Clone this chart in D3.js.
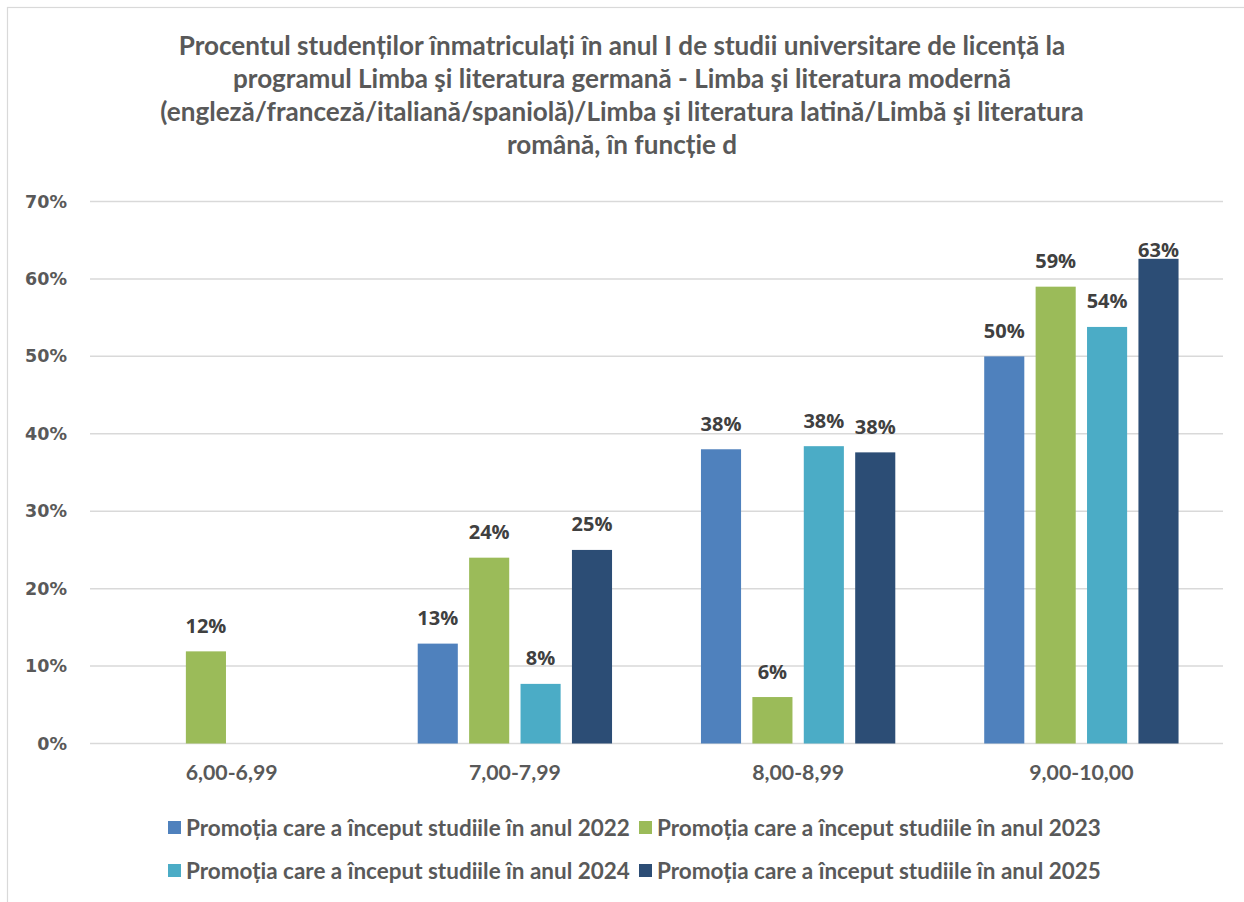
<!DOCTYPE html>
<html>
<head>
<meta charset="utf-8">
<script src="https://cdn.jsdelivr.net/npm/d3@7/dist/d3.min.js"></script>
<style>
  body { margin: 0; background: #fff; }
  svg { display: block; }
</style>
</head>
<body>
<div id="chart"></div>
<script>
(function () {
  const titleLines = [
    "Procentul studenților înmatriculați în anul I de studii universitare de licență la",
    "programul Limba şi literatura germană - Limba şi literatura modernă",
    "(engleză/franceză/italiană/spaniolă)/Limba şi literatura latină/Limbă şi literatura",
    "română, în funcție d"
  ];
  const categories = ["6,00-6,99", "7,00-7,99", "8,00-8,99", "9,00-10,00"];
  const seriesNames = [
    "Promoția care a început studiile în anul 2022",
    "Promoția care a început studiile în anul 2023",
    "Promoția care a început studiile în anul 2024",
    "Promoția care a început studiile în anul 2025"
  ];
  // null = no bar in that group
  const values2022 = [null, 0.129, 0.380, 0.500];
  const values2023 = [0.119, 0.240, 0.060, 0.590];
  const values2024 = [null, 0.077, 0.384, 0.538];
  const values2025 = [null, 0.250, 0.376, 0.626];
  const seriesColors = ["#4F81BD", "#9BBB59", "#4BACC6", "#2C4D75"];
  const yTicks = [0, 0.1, 0.2, 0.3, 0.4, 0.5, 0.6, 0.7];

  const W = 1244, H = 902;
  const plot = {left: 90, right: 1223, top: 201.5, bottom: 743.5};
  const bodyFont = "Lato, 'Open Sans', sans-serif";
  const grey = "#595959";

  const allValues = [values2022, values2023, values2024, values2025];
  const rows = [];
  categories.forEach(function (c, i) {
    seriesNames.forEach(function (s, j) {
      if (allValues[j][i] !== null) rows.push({cat: c, series: s, idx: j, value: allValues[j][i]});
    });
  });

  // scale a text selection's font so its first node is `target` px wide (Calibri stand-in)
  function fitWidth(sel, target) {
    const w = sel.node().getComputedTextLength();
    const fs = parseFloat(sel.attr("font-size"));
    sel.attr("font-size", (fs * target / w).toFixed(2));
  }

  const svg = d3.select("#chart").append("svg")
    .attr("width", W)
    .attr("height", H);

  // chart frame (only top and left edges fall in view)
  svg.append("rect")
    .attr("x", 7.5).attr("y", 7.5)
    .attr("width", W + 20).attr("height", H + 20)
    .attr("fill", "#fff")
    .attr("stroke", "#D9D9D9")
    .attr("stroke-width", 1.2);

  const title = svg.append("g").selectAll("text")
    .data(titleLines)
    .join("text")
    .attr("x", 622)
    .attr("y", function (d, i) { return 55 + i * 33; })
    .attr("text-anchor", "middle")
    .attr("font-family", bodyFont)
    .attr("font-weight", "bold")
    .attr("font-size", 22)
    .attr("fill", grey)
    .text(function (d) { return d; });
  fitWidth(title, 887);

  const y = d3.scaleLinear()
    .domain([0, 0.7])
    .range([plot.bottom, plot.top]);

  const x0 = d3.scaleBand()
    .domain(categories)
    .range([plot.left, plot.right])
    .paddingInner(0.274)
    .paddingOuter(0.137);

  const x1 = d3.scaleBand()
    .domain(seriesNames)
    .range([0, x0.bandwidth()])
    .paddingInner(0.22)
    .paddingOuter(0.11);

  // gridlines
  svg.append("g").selectAll("line")
    .data(yTicks)
    .join("line")
    .attr("x1", plot.left).attr("x2", plot.right)
    .attr("y1", function (d) { return y(d); })
    .attr("y2", function (d) { return y(d); })
    .attr("stroke", "#D9D9D9")
    .attr("stroke-width", 1.5);

  const yAxis = svg.append("g")
    .attr("transform", "translate(67,0)")
    .call(d3.axisLeft(y).tickValues(yTicks).tickFormat(d3.format(".0%")).tickSize(0).tickPadding(0));
  yAxis.select(".domain").remove();
  yAxis.selectAll("text")
    .attr("font-family", "'DejaVu Sans', sans-serif")
    .attr("font-weight", "bold")
    .attr("font-size", 17.5)
    .attr("fill", grey);

  const xAxis = svg.append("g")
    .attr("transform", "translate(0," + plot.bottom + ")")
    .call(d3.axisBottom(x0).tickSize(0).tickPadding(0));
  xAxis.select(".domain").remove();
  const xLabels = xAxis.selectAll("text")
    .attr("dy", null)
    .attr("y", 36)
    .attr("font-family", bodyFont)
    .attr("font-weight", "bold")
    .attr("font-size", 20)
    .attr("fill", grey);
  fitWidth(xLabels, 92);

  const groups = svg.append("g");
  groups.selectAll("rect")
    .data(rows)
    .join("rect")
    .attr("x", function (d) { return x0(d.cat) + x1(d.series); })
    .attr("y", function (d) { return y(d.value); })
    .attr("width", x1.bandwidth())
    .attr("height", function (d) { return y(0) - y(d.value); })
    .attr("fill", function (d) { return seriesColors[d.idx]; });

  // value labels; the tallest one is kept low, as in the original
  groups.selectAll("text")
    .data(rows)
    .join("text")
    .attr("x", function (d) { return x0(d.cat) + x1(d.series) + x1.bandwidth() / 2; })
    .attr("y", function (d) { return Math.max(y(d.value) - 18.5, y(0.628)); })
    .attr("text-anchor", "middle")
    .attr("font-family", "'Open Sans', sans-serif")
    .attr("font-weight", "bold")
    .attr("font-size", 20)
    .attr("fill", "#404040")
    .text(function (d) { return d3.format(".0%")(d.value); });

  // legend, two rows of two
  const legend = svg.append("g");
  const item = legend.selectAll("g")
    .data(seriesNames)
    .join("g")
    .attr("transform", function (d, i) {
      return "translate(" + (168 + (i % 2) * 471) + "," + (828 + Math.floor(i / 2) * 43) + ")";
    });
  item.append("rect")
    .attr("x", 0).attr("y", -7)
    .attr("width", 13).attr("height", 13)
    .attr("fill", function (d, i) { return seriesColors[i]; });
  const legendText = item.append("text")
    .attr("x", 18)
    .attr("y", 7.5)
    .attr("font-family", bodyFont)
    .attr("font-weight", "bold")
    .attr("font-size", 20)
    .attr("fill", grey)
    .text(function (d) { return d; });
  fitWidth(legendText, 444);
})();
</script>
</body>
</html>
